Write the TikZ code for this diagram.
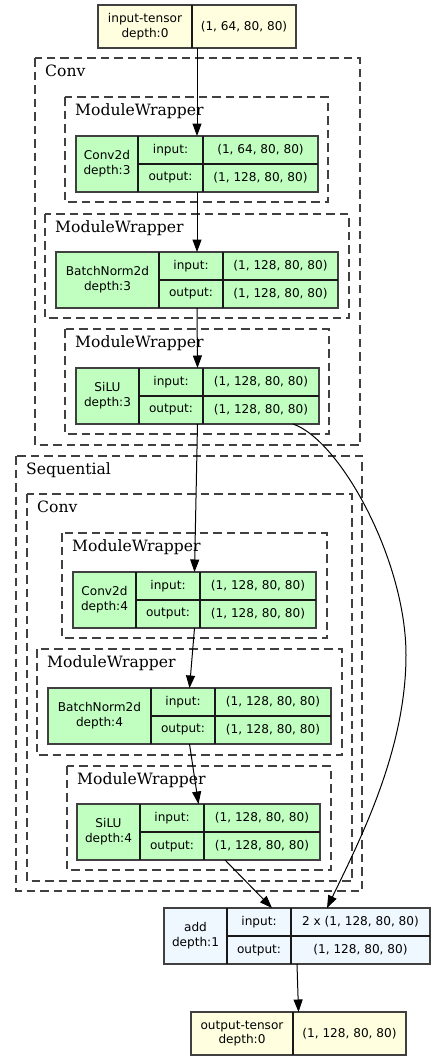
\documentclass[tikz,border=0pt]{standalone}
\usepackage{fontspec}
\setmainfont{DejaVu Serif}
\newfontfamily\nodefont{DejaVu Sans}
\usetikzlibrary{arrows.meta,calc}
\definecolor{greenfill}{HTML}{C1FFC1}
\definecolor{yellowfill}{HTML}{FFFFE0}
\definecolor{bluefill}{HTML}{F0F8FF}
\definecolor{boxgray}{HTML}{404040}
\tikzset{
  tabframe/.style={draw=boxgray, line width=1.3pt, inner sep=0pt, outer sep=0pt},
  divline/.style={draw=black!90, line width=1.1pt},
  celltext/.style={font=\nodefont\fontsize{12.1}{14.8}\selectfont, align=center, inner sep=0pt},
  cluster/.style={draw=black!75, line width=1.25pt, dash pattern=on 8.5pt off 5pt},
  clusterlabel/.style={font=\fontsize{15.6}{18}\selectfont, anchor=base west, inner sep=0pt},
  edge/.style={draw=black, line width=1pt, -{Triangle[length=12.5pt,width=9pt]}},
}
% table node: name, L, T, R, B, d1, d2, fill, label
\newcommand\tabbox[9]{%
  \node[tabframe, fill=#8, minimum width={#4pt-#2pt}, minimum height={#5pt-#3pt}, anchor=north west] (#1) at (#2,#3) {};
  \draw[divline] (#6,#3) -- (#6,#5);
  \draw[divline] (#7,#3) -- (#7,#5);
  \draw[divline] (#6,{(#3+#5)/2}) -- (#4,{(#3+#5)/2});
  \node[celltext] (#1-name) at ({(#2+#6)/2},{(#3+#5)/2}) {#9};
  \coordinate (#1-il) at ({(#6+#7)/2},{(3*#3+#5)/4});
  \coordinate (#1-ol) at ({(#6+#7)/2},{(#3+3*#5)/4});
  \coordinate (#1-iv) at ({(#7+#4)/2},{(3*#3+#5)/4});
  \coordinate (#1-ov) at ({(#7+#4)/2},{(#3+3*#5)/4});
}
\newcommand\tabio[3]{%
  \node[celltext] (#1-in) at (#1-il) {input:};
  \node[celltext] (#1-out) at (#1-ol) {output:};
  \node[celltext] (#1-inv) at (#1-iv) {#2};
  \node[celltext] (#1-outv) at (#1-ov) {#3};
}
% tensor node: name, L, T, R, B, d, label, value
\newcommand\tensorbox[8]{%
  \node[tabframe, fill=yellowfill, minimum width={#4pt-#2pt}, minimum height={#5pt-#3pt}, anchor=north west] (#1) at (#2,#3) {};
  \draw[divline] (#6,#3) -- (#6,#5);
  \node[celltext] (#1-name) at ({(#2+#6)/2},{(#3+#5)/2}) {#7};
  \node[celltext] (#1-val) at ({(#6+#4)/2},{(#3+#5)/2}) {#8};
}
% cluster: name, L, T, R, B, label
\newcommand\clusterbox[6]{%
  \draw[cluster] (#2,#3) rectangle (#4,#5);
  \node[clusterlabel] (#1) at ({#2+10},{#3+18.5}) {#6};
}
\begin{document}
\begin{tikzpicture}[x=1pt,y=-1pt]
\useasboundingbox (0,0) rectangle (436,1060);
\fill[white] (0,0) rectangle (436,1060);

% clusters
\clusterbox{convA}{35}{58}{360}{445}{Conv}
\clusterbox{mwA}{65}{97}{328}{202}{ModuleWrapper}
\clusterbox{mwB}{45}{214}{349}{318}{ModuleWrapper}
\clusterbox{mwC}{65}{329}{329}{434}{ModuleWrapper}
\clusterbox{seq}{16}{456}{362}{891}{Sequential}
\clusterbox{convB}{27}{494}{352}{881}{Conv}
\clusterbox{mwD}{62}{533}{327}{638}{ModuleWrapper}
\clusterbox{mwE}{37}{649}{342}{755}{ModuleWrapper}
\clusterbox{mwF}{67}{766}{331}{870}{ModuleWrapper}

% nodes
\tensorbox{inp}{98}{5}{296}{48}{192}{input-tensor\\depth:0}{(1, 64, 80, 80)}
\tabbox{cA}{76}{136}{318}{192}{138}{203}{greenfill}{Conv2d\\depth:3}
\tabio{cA}{(1, 64, 80, 80)}{(1, 128, 80, 80)}
\tabbox{bA}{56}{252}{338}{308}{159}{223}{greenfill}{BatchNorm2d\\depth:3}
\tabio{bA}{(1, 128, 80, 80)}{(1, 128, 80, 80)}
\tabbox{sA}{76}{368}{319}{424}{139}{203}{greenfill}{SiLU\\depth:3}
\tabio{sA}{(1, 128, 80, 80)}{(1, 128, 80, 80)}
\tabbox{cB}{73}{572}{316}{628}{136}{200}{greenfill}{Conv2d\\depth:4}
\tabio{cB}{(1, 128, 80, 80)}{(1, 128, 80, 80)}
\tabbox{bB}{48}{688}{331}{744}{151}{215}{greenfill}{BatchNorm2d\\depth:4}
\tabio{bB}{(1, 128, 80, 80)}{(1, 128, 80, 80)}
\tabbox{sB}{77}{804}{320}{860}{140}{204}{greenfill}{SiLU\\depth:4}
\tabio{sB}{(1, 128, 80, 80)}{(1, 128, 80, 80)}
\tabbox{add}{164}{908}{430}{964}{227}{291}{bluefill}{add\\depth:1}
\tabio{add}{2 x (1, 128, 80, 80)}{(1, 128, 80, 80)}
\tensorbox{outp}{191}{1012}{406}{1055}{293}{output-tensor\\depth:0}{(1, 128, 80, 80)}

% edges
\draw[edge] (inp.south) -- (cA.north);
\draw[edge] (cA.south) -- (bA.north);
\draw[edge] (bA.south) -- (sA.north);
\draw[edge] (sA.south) -- (cB.north);
\draw[edge] (cB.south) -- (bB.north);
\draw[edge] (bB.south) -- (sB.north);
\draw[edge] ([xshift=26.5pt]sB.south) -- ([xshift=-25pt]add.north);
\draw[edge] ([xshift=95.5pt]sA.south) .. controls (340,440) and (406,560) .. (406,655)
  .. controls (406,750) and (360,840) .. ([xshift=30pt]add.north);
\draw[edge] (add.south) -- (outp.north);
\end{tikzpicture}
\end{document}
